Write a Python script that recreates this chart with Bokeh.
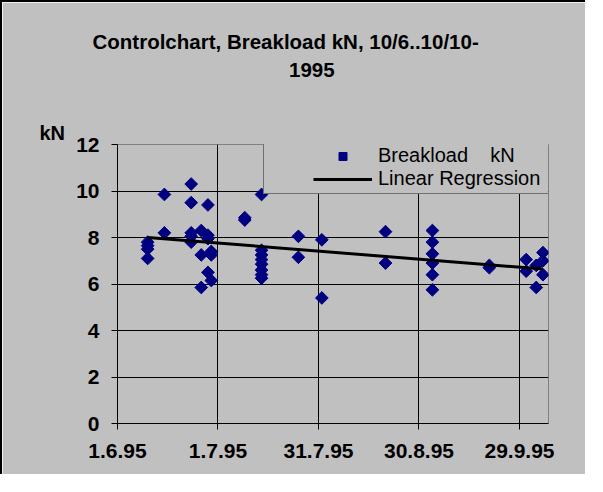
import numpy as np
import pandas as pd
from bokeh.plotting import figure
from bokeh.models import (Range1d, FixedTicker, Legend, LegendItem, Title,
                          ColumnDataSource, InlineStyleSheet)
from bokeh.embed import file_html
from bokeh.resources import INLINE

# ---------------- data ----------------
title_line1 = "Controlchart, Breakload kN, 10/6..10/10-"
title_line2 = "1995"
y_unit = "kN"
series_name = "Breakload    kN"
fit_name = "Linear Regression"

origin = "1995-06-01"
tick_dates = ["1995-06-01", "1995-07-01", "1995-07-31", "1995-08-30", "1995-09-29"]
tick_labels = ["1.6.95", "1.7.95", "31.7.95", "30.8.95", "29.9.95"]
y_ticks = [0, 2, 4, 6, 8, 10, 12]

dates = [
    "1995-06-10", "1995-06-10", "1995-06-10", "1995-06-10",
    "1995-06-15", "1995-06-15",
    "1995-06-23", "1995-06-23", "1995-06-23", "1995-06-23", "1995-06-23",
    "1995-06-26", "1995-06-26", "1995-06-26",
    "1995-06-28", "1995-06-28", "1995-06-28", "1995-06-28",
    "1995-06-29", "1995-06-29", "1995-06-29",
    "1995-07-09", "1995-07-09",
    "1995-07-14", "1995-07-14", "1995-07-14", "1995-07-14",
    "1995-07-14", "1995-07-14", "1995-07-14", "1995-07-14",
    "1995-07-25", "1995-07-25",
    "1995-08-01", "1995-08-01",
    "1995-08-20", "1995-08-20",
    "1995-09-03", "1995-09-03", "1995-09-03", "1995-09-03", "1995-09-03", "1995-09-03",
    "1995-09-20", "1995-09-20",
    "1995-10-01", "1995-10-01",
    "1995-10-04", "1995-10-04",
    "1995-10-06", "1995-10-06", "1995-10-06",
]
breakload = [
    7.8, 7.65, 7.5, 7.1,
    9.85, 8.2,
    10.3, 9.5, 8.2, 8.05, 7.8,
    8.3, 7.25, 5.85,
    9.4, 8.1, 7.95, 6.5,
    7.4, 7.25, 6.15,
    8.85, 8.75,
    9.85, 7.45, 7.25, 7.05, 6.85, 6.6, 6.4, 6.25,
    8.05, 7.15,
    7.9, 5.4,
    8.25, 6.9,
    8.3, 7.8, 7.3, 6.9, 6.4, 5.75,
    6.8, 6.7,
    7.05, 6.55,
    6.8, 5.85,
    7.35, 7.0, 6.4,
]

# ---------------- derived ----------------
t0 = pd.Timestamp(origin)
days = [(pd.Timestamp(d) - t0).days for d in dates]
tick_days = [(pd.Timestamp(d) - t0).days for d in tick_dates]

slope, intercept = np.polyfit(days, breakload, 1)
fit_x = [min(days), max(days)]
fit_y = [intercept + slope * v for v in fit_x]

src = ColumnDataSource(dict(x=days, y=breakload))
fit_src = ColumnDataSource(dict(x=fit_x, y=fit_y))

BG = "#C0C0C0"
FONT = "Liberation Sans"

p = figure(width=585, height=474, output_backend="svg", toolbar_location=None,
           x_range=Range1d(0, 128.66), y_range=Range1d(0, 12),
           min_border_left=115, min_border_right=39,
           min_border_top=0, min_border_bottom=53)
p.stylesheets = [InlineStyleSheet(
    css=":host { border-left: 2px solid black; border-top: 2px solid black; }")]
p.background_fill_color = BG
p.border_fill_color = BG
p.outline_line_color = "#808080"
p.outline_line_width = 1

# axes
for ax in (p.xaxis[0], p.yaxis[0]):
    ax.axis_line_color = "black"
    ax.axis_line_width = 1
    ax.major_tick_line_color = "black"
    ax.major_tick_in = 0
    ax.major_tick_out = 6
    ax.minor_tick_line_color = None
    ax.major_label_text_font = FONT
    ax.major_label_text_font_style = "bold"
    ax.major_label_text_font_size = "21px"
    ax.major_label_text_color = "black"

p.xaxis.ticker = FixedTicker(ticks=tick_days)
p.xaxis.major_label_overrides = {d: lab for d, lab in zip(tick_days, tick_labels)}
p.xaxis.major_label_standoff = 14
p.yaxis.ticker = FixedTicker(ticks=y_ticks)
p.yaxis.major_label_standoff = 12

p.xgrid.ticker = FixedTicker(ticks=tick_days)
p.ygrid.ticker = FixedTicker(ticks=y_ticks)
p.grid.grid_line_color = "black"
p.grid.grid_line_width = 1
p.grid.grid_line_alpha = 1

pts = p.scatter("x", "y", source=src, marker="square", angle=np.pi / 4,
                size=9, fill_color="#000080", line_color="#000080")
fit = p.line("x", "y", source=fit_src, line_color="black", line_width=3)

# opaque legend frame (wider than the legend entries, as in the original)
box_legend = Legend(items=[LegendItem(label=" ", renderers=[fit])],
                    location=(146, 229), padding=0, margin=0, spacing=0,
                    glyph_width=0, glyph_height=53, label_width=345, label_height=53,
                    label_standoff=0, label_text_font_size="1px",
                    border_line_color="#202020", border_line_width=1,
                    background_fill_color=BG, background_fill_alpha=1)
p.add_layout(box_legend)

legend = Legend(items=[LegendItem(label=series_name, renderers=[pts]),
                       LegendItem(label=fit_name, renderers=[fit])],
                location=(196, 233), padding=0, margin=0, spacing=0,
                glyph_width=59, glyph_height=20, label_height=20, label_standoff=6,
                label_text_font=FONT, label_text_font_size="20px",
                label_text_color="black",
                border_line_alpha=0, background_fill_alpha=0)
p.add_layout(legend)

# titles above the plot (listed from the plot area outward)
def title(text, offset, standoff, size="20.5px", align="left", valign="bottom"):
    return Title(text=text, align=align, vertical_align=valign, offset=offset,
                 standoff=standoff, text_font=FONT, text_font_style="bold",
                 text_font_size=size, text_color="black")

p.add_layout(title(y_unit, -78, 1, size="20px"), "above")
p.add_layout(title(" ", 0, 40.2, size="1px"), "above")
p.add_layout(title(title_line2, 171.5, 0), "above")
p.add_layout(title(title_line1, -25, 15), "above")
p.add_layout(title(" ", 0, 15.3, size="1px"), "above")

open("out.html", "w").write(file_html(p, INLINE))
